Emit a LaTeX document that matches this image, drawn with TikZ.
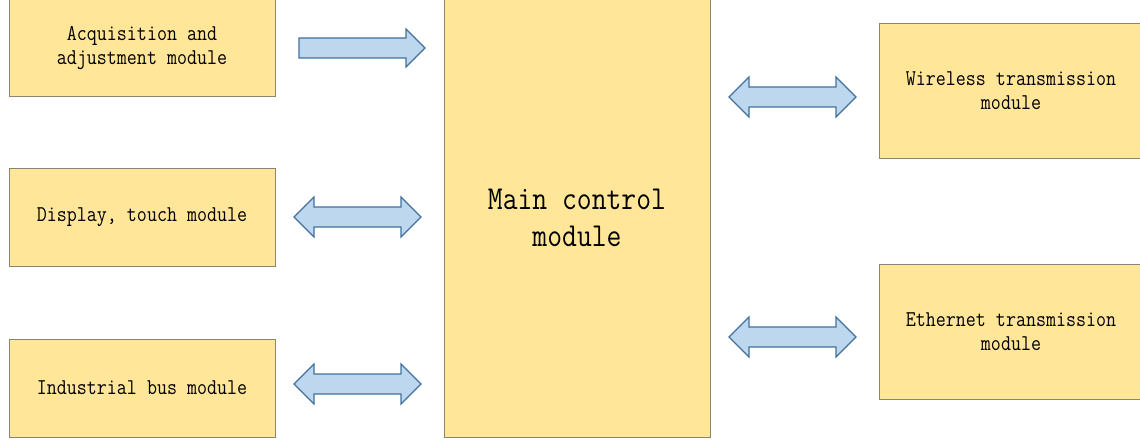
\documentclass[tikz,border=0pt]{standalone}
\usepackage{fontspec}
\newfontfamily\modfont{Latin Modern Mono}[FakeStretch=0.86]
\definecolor{boxfill}{HTML}{FFE699}
\definecolor{boxline}{HTML}{8C8370}
\definecolor{arrfill}{HTML}{BDD7EE}
\definecolor{arrline}{HTML}{41719C}
\tikzset{
  modbox/.style={draw=boxline, fill=boxfill, line width=0.9pt, inner sep=0pt, align=center, font=\modfont\fontsize{22.6}{24}\selectfont},
  mainbox/.style={modbox, font=\modfont\fontsize{33.5}{37}\selectfont},
  blockarrow/.style={draw=arrline, fill=arrfill, line width=1.2pt, line join=miter}
}
\newcommand\myDArrow[4]{% tipL, tipR, y, name
  \coordinate (#4) at ({(#1+#2)/2},#3);
  \draw[blockarrow] (#1,#3) -- (#1+20,#3-20) -- (#1+20,#3-10) -- (#2-20,#3-10) -- (#2-20,#3-20)
     -- (#2,#3) -- (#2-20,#3+20) -- (#2-20,#3+10) -- (#1+20,#3+10) -- (#1+20,#3+20) -- cycle;}
\begin{document}
\begin{tikzpicture}[x=1pt,y=-1pt]
\useasboundingbox (0,0) rectangle (1140,441);
\node[modbox, minimum width=266pt, minimum height=97pt] (acq) at (142,48) {Acquisition and\\adjustment module};
\node[modbox, minimum width=266pt, minimum height=98pt] (disp) at (142,217) {Display, touch module};
\node[modbox, minimum width=266pt, minimum height=98pt] (ind) at (142,388) {Industrial bus module};
\node[mainbox, minimum width=266pt, minimum height=438pt] (main) at (577,218) {Main control\\module};
\node[modbox, minimum width=264pt, minimum height=135pt] (wire) at (1011,91) {Wireless transmission\\module};
\node[modbox, minimum width=264pt, minimum height=135pt] (eth) at (1011,332) {Ethernet transmission\\module};
% single arrow acq -> main
\coordinate (a1) at (362,48);
\draw[blockarrow] (299,38) -- (406,38) -- (406,29) -- (425,48) -- (406,67) -- (406,58) -- (299,58) -- cycle;
\myDArrow{294}{421}{217}{a2}
\myDArrow{294}{421}{384}{a3}
\myDArrow{729}{856}{97}{a4}
\myDArrow{729}{856}{337}{a5}
\end{tikzpicture}
\end{document}
